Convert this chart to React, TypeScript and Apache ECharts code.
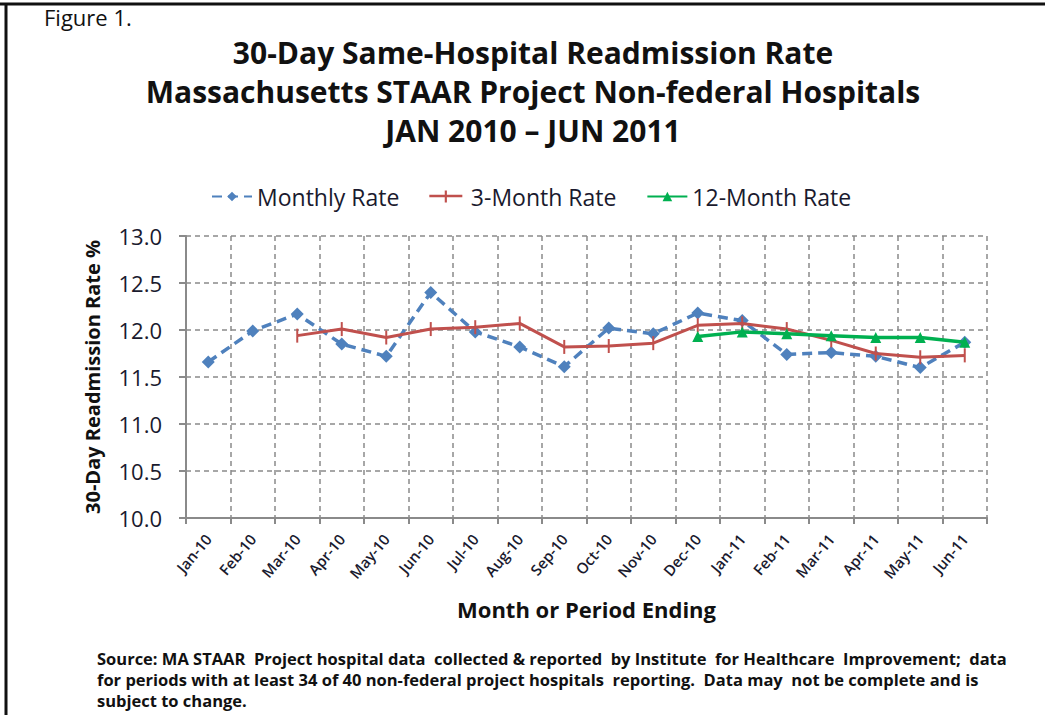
import React, { useEffect, useRef } from "react";
import * as echarts from "echarts";

const categories = ["Jan-10","Feb-10","Mar-10","Apr-10","May-10","Jun-10","Jul-10","Aug-10","Sep-10","Oct-10","Nov-10","Dec-10","Jan-11","Feb-11","Mar-11","Apr-11","May-11","Jun-11"];
const monthlyRate = [11.66, 11.99, 12.17, 11.85, 11.72, 12.40, 11.98, 11.82, 11.61, 12.02, 11.96, 12.18, 12.10, 11.74, 11.76, 11.72, 11.60, 11.87];
const threeMonthRate = [null, null, 11.94, 12.01, 11.92, 12.01, 12.03, 12.07, 11.82, 11.83, 11.86, 12.05, 12.07, 12.01, 11.89, 11.75, 11.71, 11.73];
const twelveMonthRate = [null, null, null, null, null, null, null, null, null, null, null, 11.93, 11.98, 11.96, 11.94, 11.92, 11.92, 11.87];
const yTicks = { min: 10, max: 13, interval: 0.5 };

const titleLines = [
  "30-Day Same-Hospital Readmission Rate",
  "Massachusetts STAAR Project Non-federal Hospitals",
  "JAN 2010 \u2013 JUN 2011",
];
const footerLines = [
  "Source: MA STAAR  Project hospital data  collected & reported  by Institute  for Healthcare  Improvement;  data",
  "for periods with at least 34 of 40 non-federal project hospitals  reporting.  Data may  not be complete and is",
  "subject to change.",
];

const FONT = "'Open Sans', Lato, sans-serif";

export default function App() {
  const ref = useRef<HTMLDivElement>(null);
  useEffect(() => {
    document.body.style.margin = "0";
    const chart = echarts.init(ref.current!, undefined, { renderer: "svg" });
    const grid = "#8a8a8a";
    chart.setOption({
      animation: false,
      backgroundColor: "#fff",
      textStyle: { fontFamily: FONT },
      grid: { left: 186, right: 58, top: 236, bottom: 197 },
      legend: {
        top: 180,
        left: 206,
        itemWidth: 40,
        itemHeight: 12,
        itemGap: 30,
        textStyle: { fontSize: 23, color: "#1a1a2e", fontFamily: FONT },
        data: [
          { name: "Monthly Rate" },
          { name: "3-Month Rate", icon: "path://M0,5h18v-5h2.5v5h18v3h-18v6h-2.5v-6h-18z" },
          { name: "12-Month Rate" },
        ],
      },
      xAxis: {
        type: "category",
        data: categories,
        boundaryGap: true,
        name: "Month or Period Ending",
        nameLocation: "middle",
        nameGap: 80,
        nameTextStyle: { fontSize: 22, fontWeight: "bold", color: "#111" },
        axisLine: { lineStyle: { color: grid, width: 2 } },
        axisTick: { show: true, alignWithLabel: false, length: 6, lineStyle: { color: grid, width: 2 } },
        axisLabel: { rotate: 50, fontSize: 15, fontWeight: 600, color: "#1a1a2e", margin: 18, interval: 0 },
        splitLine: { show: true, lineStyle: { color: grid, type: [5, 4], width: 1.5 } },
      },
      yAxis: {
        type: "value",
        min: yTicks.min,
        max: yTicks.max,
        interval: yTicks.interval,
        name: "30-Day Readmission Rate %",
        nameLocation: "middle",
        nameGap: 84,
        nameTextStyle: { fontSize: 20, fontWeight: "bold", color: "#111" },
        axisLine: { show: true, lineStyle: { color: grid, width: 2 } },
        axisTick: { show: true, length: 7, lineStyle: { color: grid, width: 2 } },
        axisLabel: { fontSize: 22, color: "#1a1a2e", margin: 24, formatter: (v: number) => v.toFixed(1) },
        splitLine: { show: true, lineStyle: { color: grid, type: [5, 4], width: 1.5 } },
      },
      series: [
        {
          name: "Monthly Rate",
          type: "line",
          data: monthlyRate,
          symbol: "diamond",
          symbolSize: 13,
          itemStyle: { color: "#4F81BD" },
          lineStyle: { color: "#4F81BD", width: 3.5, type: [10, 6] },
          z: 3,
        },
        {
          name: "3-Month Rate",
          type: "line",
          data: threeMonthRate,
          symbol: "path://M0,0h2v14h-2z",
          symbolKeepAspect: true,
          symbolSize: 14,
          itemStyle: { color: "#C0504D" },
          lineStyle: { color: "#C0504D", width: 3 },
          z: 4,
        },
        {
          name: "12-Month Rate",
          type: "line",
          data: twelveMonthRate,
          symbol: "triangle",
          symbolSize: 11,
          itemStyle: { color: "#00B050" },
          lineStyle: { color: "#00B050", width: 3.5 },
          z: 5,
        },
      ],
      graphic: [
        { type: "line", shape: { x1: 0, y1: 4, x2: 1045, y2: 4 }, style: { stroke: "#111", lineWidth: 3 } },
        { type: "line", shape: { x1: 6, y1: 4, x2: 6, y2: 715 }, style: { stroke: "#111", lineWidth: 3 } },
        { type: "text", left: 44, top: 6, style: { text: "Figure 1.", fontSize: 22, fill: "#111", fontFamily: FONT } },
        ...titleLines.map((t, i) => ({
          type: "text",
          x: 533,
          y: 37 + i * 39,
          style: { text: t, align: "center", verticalAlign: "top", fontSize: 30, fontWeight: "bold", fill: "#111", fontFamily: FONT },
        })),
        ...footerLines.map((t, i) => ({
          type: "text",
          left: 97,
          top: 650 + i * 21,
          style: { text: t, fontSize: 16.5, fontWeight: "bold", fill: "#111", fontFamily: FONT },
        })),
      ],
    });
    return () => chart.dispose();
  }, []);
  return <div ref={ref} style={{ position: "absolute", left: 0, top: 0, width: 1045, height: 715 }} />;
}
